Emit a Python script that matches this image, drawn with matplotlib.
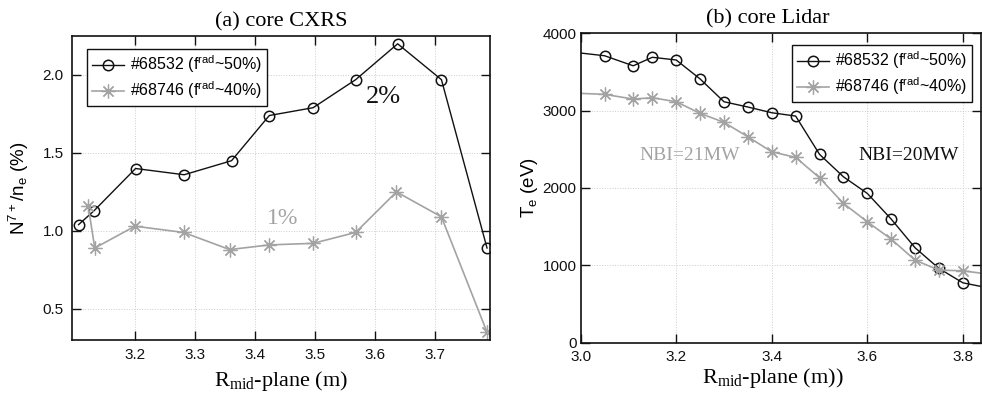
import numpy as np
import matplotlib
matplotlib.use("Agg")
import matplotlib.pyplot as plt

plt.rcParams["font.family"] = ["Liberation Sans", "DejaVu Sans"]
plt.rcParams["mathtext.default"] = "regular"

# (a) core CXRS: N7+/ne (%)
cx_r_68532 = [3.106, 3.132, 3.201, 3.282, 3.361, 3.424, 3.497, 3.568, 3.638, 3.711, 3.787]
cx_n_68532 = [1.04, 1.13, 1.40, 1.36, 1.45, 1.74, 1.79, 1.97, 2.20, 1.97, 0.89]
cx_r_68746 = [3.122, 3.133, 3.200, 3.281, 3.358, 3.424, 3.497, 3.568, 3.636, 3.711, 3.787]
cx_n_68746 = [1.16, 0.89, 1.03, 0.99, 0.88, 0.91, 0.92, 0.99, 1.25, 1.09, 0.35]

# (b) core Lidar: Te (eV)
li_r = [2.95, 3.05, 3.11, 3.15, 3.20, 3.25, 3.30, 3.35, 3.40, 3.45, 3.50,
        3.55, 3.60, 3.65, 3.70, 3.75, 3.80, 3.86]
li_te_68532 = [3780, 3710, 3580, 3690, 3655, 3410, 3115, 3047, 2973, 2930, 2435,
               2145, 1930, 1598, 1227, 960, 774, 700]
li_te_68746 = [3235, 3211, 3150, 3167, 3115, 2965, 2849, 2662, 2468, 2396, 2132,
               1801, 1563, 1339, 1067, 938, 930, 880]

labels = ["#68532 (f$^{rad}$~50%)", "#68746 (f$^{rad}$~40%)"]
black = "#111111"
gray = "#a3a3a3"
star = (8, 2, 0)
W, H = 982, 397

fig = plt.figure(figsize=(9.82, 3.97), dpi=100)
ax1 = fig.add_axes([0.0733, 0.1436, 0.4257, 0.7657])
ax2 = fig.add_axes([0.5913, 0.1368, 0.4077, 0.7793])


def px(x, y):
    # pixel position (from top-left) to figure fraction
    return x / W, 1 - y / H


def style(ax):
    ax.grid(True, color="#cccccc", linestyle=":", linewidth=0.7)
    ax.tick_params(direction="in", length=6.5, width=1.0, top=True, right=True,
                   labelsize=11, pad=6, colors=black)
    for s in ax.spines.values():
        s.set_linewidth(1.2)
        s.set_color(black)


def add_legend(ax, loc, anchor):
    ax.legend(loc=loc, bbox_to_anchor=anchor, bbox_transform=fig.transFigure,
              fontsize=11.5, frameon=True, fancybox=False, edgecolor=black,
              framealpha=1, borderpad=0.3, handlelength=2.0, handletextpad=0.4,
              labelspacing=0.25, borderaxespad=0)


ax1.plot(cx_r_68532, cx_n_68532, color=black, lw=1.0, marker="o", ms=7.5,
         mfc="none", mec=black, mew=1.1, label=labels[0])
ax1.plot(cx_r_68746, cx_n_68746, color=gray, lw=1.2, marker=star, ms=10,
         mec=gray, mew=0.9, label=labels[1])
ax1.set_xlim(3.095, 3.792)
ax1.set_ylim(0.30, 2.25)
ax1.set_xticks([3.2, 3.3, 3.4, 3.5, 3.6, 3.7])
ax1.set_yticks([0.5, 1.0, 1.5, 2.0])
style(ax1)
ax1.set_title("(a) core CXRS", family="Liberation Serif", fontsize=16, pad=7)
ax1.set_xlabel("R$_{mid}$-plane (m)", family="Liberation Serif", fontsize=16, labelpad=5)
ax1.set_ylabel("N$^{7+}$/n$_e$ (%)", fontsize=13.5, labelpad=8)
fig.text(*px(383, 97), "2%", fontsize=19, family="Liberation Serif",
         color=black, ha="center", va="center")
fig.text(*px(283, 218), "1%", fontsize=17, family="Liberation Serif",
         color=gray, ha="center", va="center")
add_legend(ax1, "upper left", px(87, 49))

ax2.plot(li_r, li_te_68532, color=black, lw=1.0, marker="o", ms=7.5,
         mfc="none", mec=black, mew=1.1, label=labels[0])
ax2.plot(li_r, li_te_68746, color=gray, lw=1.2, marker=star, ms=10,
         mec=gray, mew=0.9, label=labels[1])
ax2.set_xlim(3.0, 3.838)
ax2.set_ylim(0, 4000)
ax2.set_xticks([3.0, 3.2, 3.4, 3.6, 3.8])
ax2.set_xticklabels(["3.0", "3.2", "3.4", "3.6", "3.8"])
ax2.set_yticks([0, 1000, 2000, 3000, 4000])
style(ax2)
ax2.tick_params(axis="x", pad=5)
ax2.tick_params(axis="y", pad=3)
ax2.set_title("(b) core Lidar", family="Liberation Serif", fontsize=16, pad=7, x=0.467)
ax2.set_xlabel("R$_{mid}$-plane (m))", family="Liberation Serif", fontsize=16, labelpad=2,
               x=0.48)
ax2.set_ylabel("T$_e$ (eV)", fontsize=13.5, labelpad=2)
fig.text(*px(690, 155), "NBI=21MW", fontsize=14, family="Liberation Serif",
         color=gray, ha="center", va="center")
fig.text(*px(909, 155), "NBI=20MW", fontsize=14, family="Liberation Serif",
         color=black, ha="center", va="center")
add_legend(ax2, "upper right", px(972, 45))

fig.savefig("out.png", dpi=100)
